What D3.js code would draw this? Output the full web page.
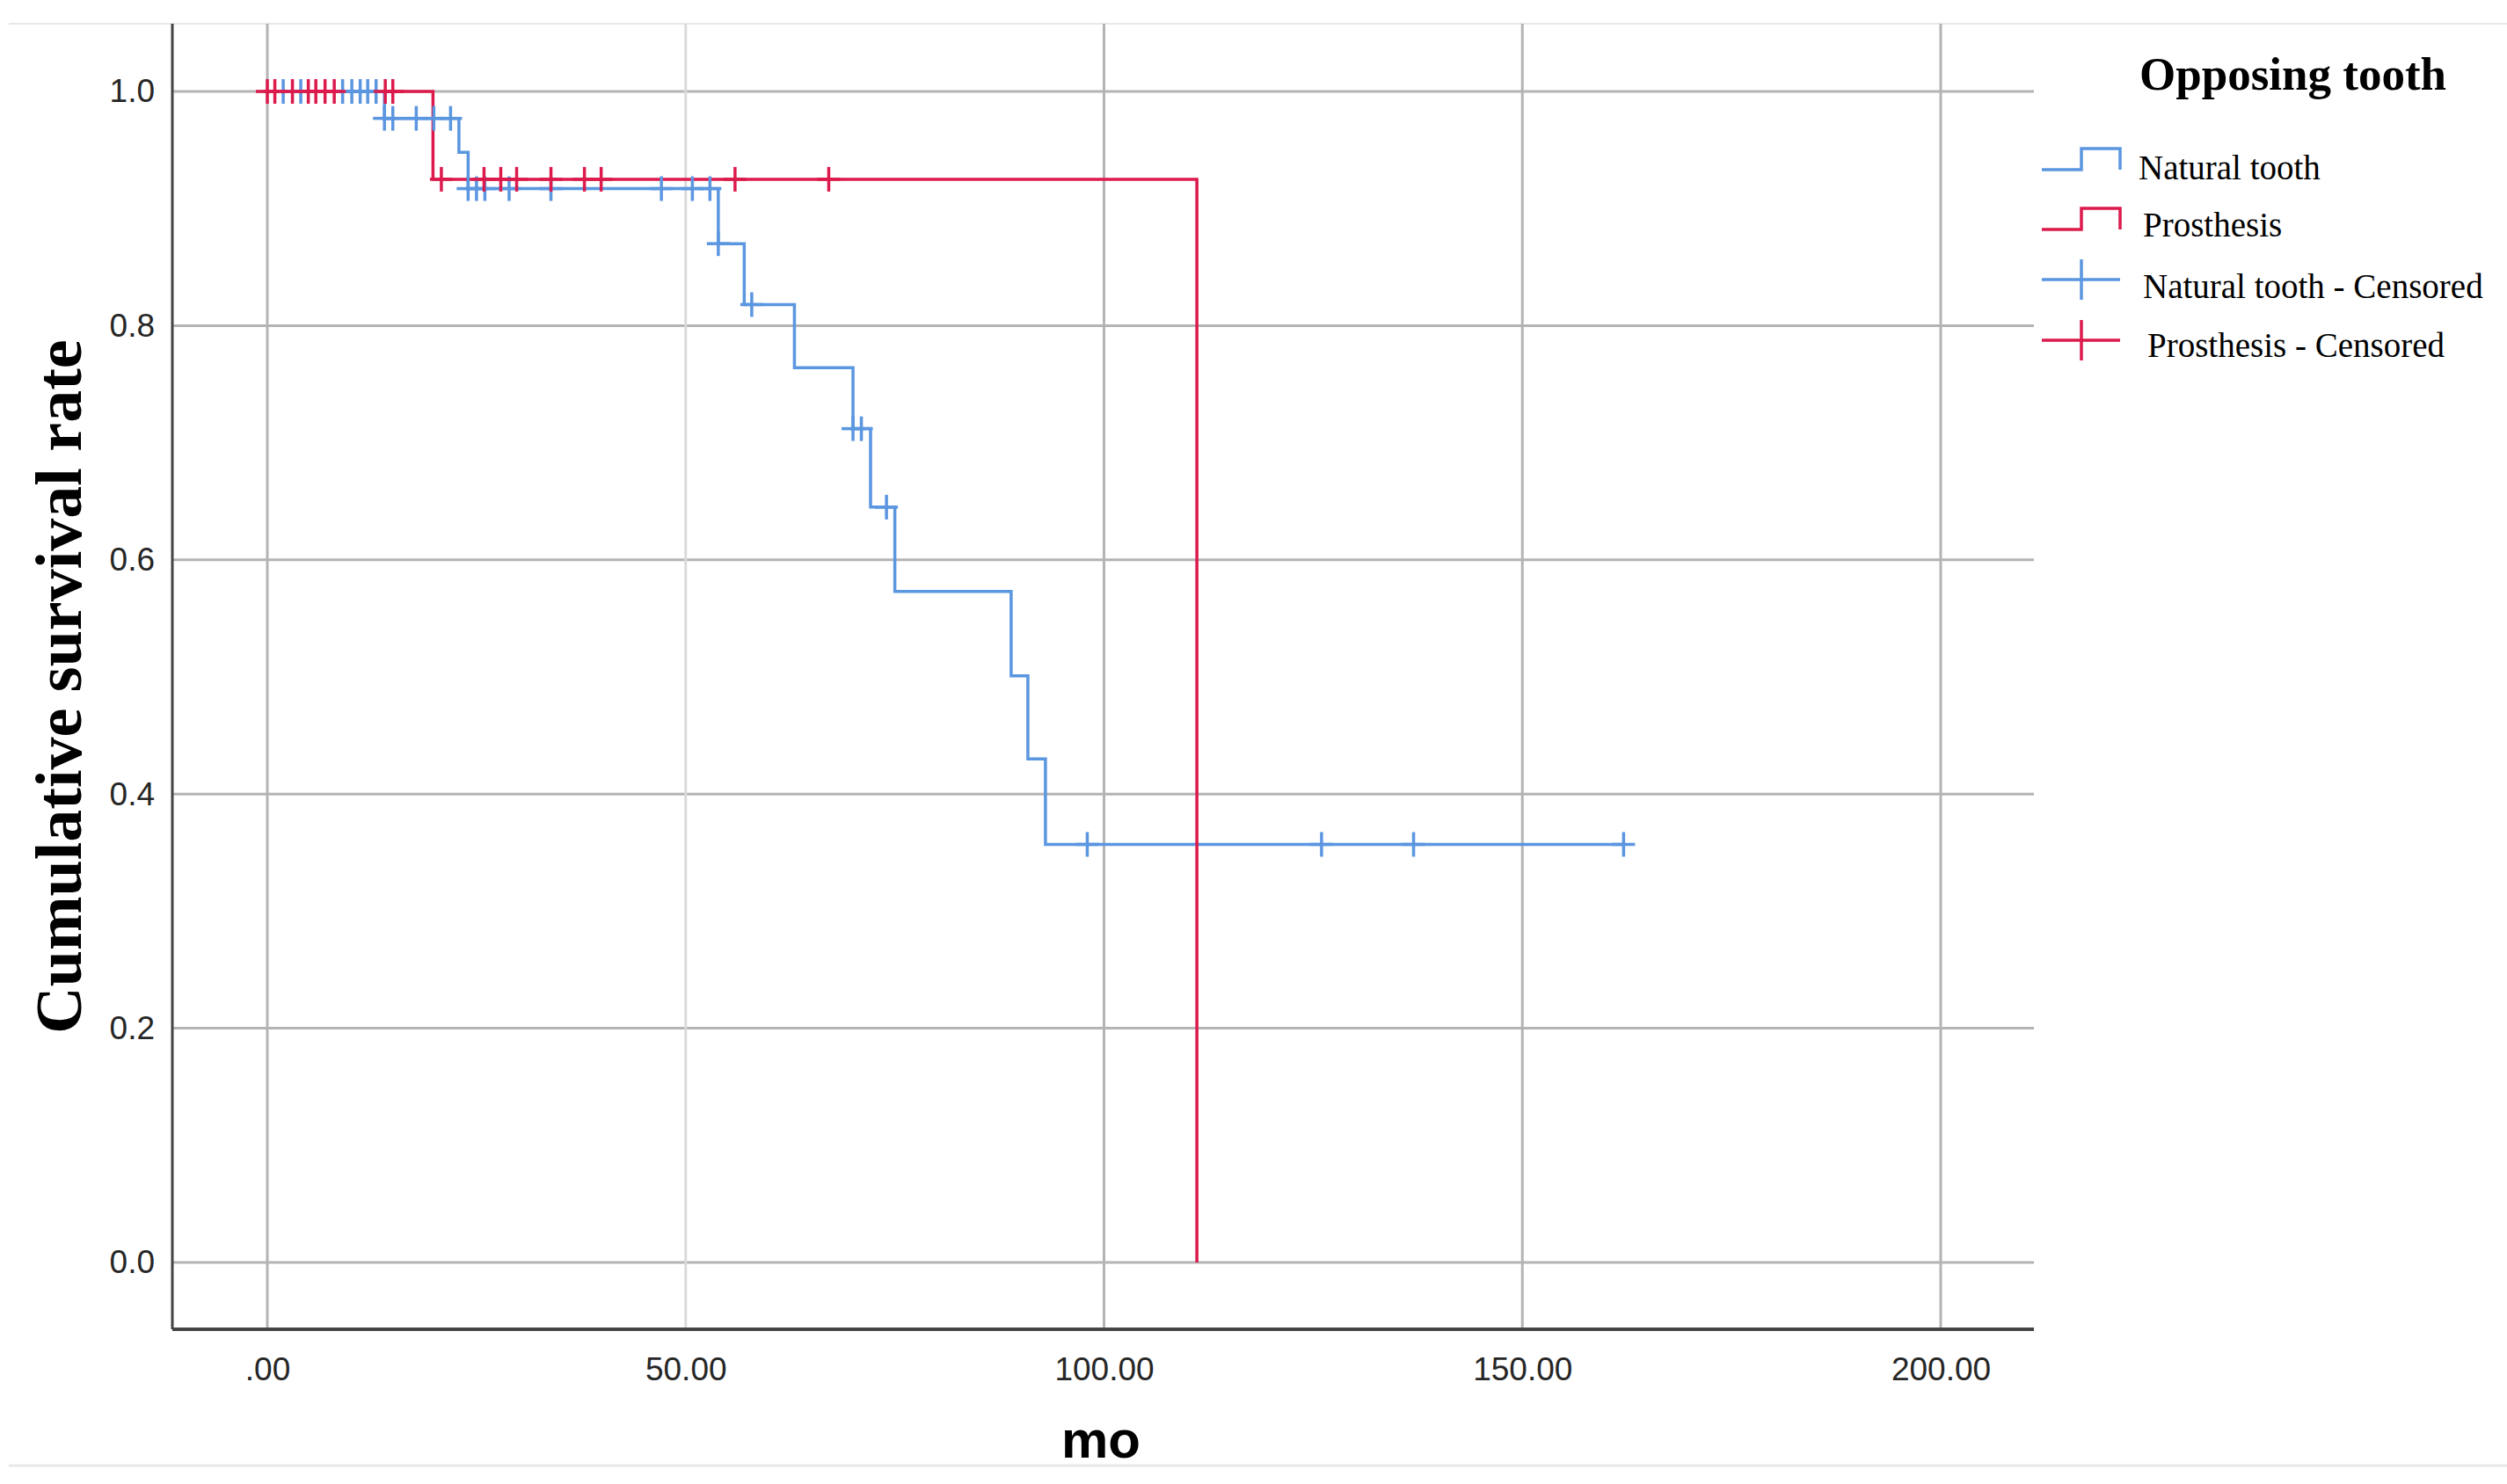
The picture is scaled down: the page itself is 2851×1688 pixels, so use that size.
<!DOCTYPE html>
<html>
<head>
<meta charset="utf-8">
<script src="https://cdn.jsdelivr.net/npm/d3@7"></script>
<style>
  html, body { margin: 0; padding: 0; background: #fff; }
  svg { display: block; }
</style>
</head>
<body>
<div id="chart"></div>
<script>
// Kaplan-Meier steps (time in months, cumulative survival)
const naturalTimes    = [0, 14.0, 22.9, 24.0, 53.9, 57.0, 63.0, 70.0, 72.1, 75.0, 88.9, 90.9, 93.0, 162.1];
const naturalSurvival = [1.0, 0.977, 0.948, 0.917, 0.870, 0.818, 0.764, 0.712, 0.645, 0.573, 0.501, 0.430, 0.357, 0.357];
const naturalCensored = [1.9, 4.0, 9.0, 10.1, 11.1, 12.0, 13.0, 14.0, 15.0, 17.8, 19.9, 21.9,
                         24.0, 25.0, 26.0, 28.9, 33.9, 47.1, 50.8, 52.9, 53.9, 57.9, 70.0, 71.0, 74.0,
                         98.0, 126.0, 137.0, 162.1];

const prosthesisTimes    = [0, 19.8, 111.1];
const prosthesisSurvival = [1.0, 0.925, 0.0];
const prosthesisCensored = [0.0, 0.9, 3.0, 4.9, 5.8, 6.9, 8.0, 14.1, 15.0,
                            20.8, 25.9, 27.9, 29.8, 33.9, 37.9, 39.9, 55.9, 67.1];

const xTicks = [0, 50, 100, 150, 200];
const yTicks = [0, 0.2, 0.4, 0.6, 0.8, 1.0];
const legendLabels = ["Natural tooth", "Prosthesis", "Natural tooth - Censored", "Prosthesis - Censored"];

const width = 2851, height = 1688;
const blue = "#5b96e0", red = "#dc1a4c";
const frame = { left: 196, right: 2313, top: 27, bottom: 1512 };

const svg = d3.select("#chart").append("svg")
  .attr("width", width)
  .attr("height", height);

// faint image border lines
svg.append("line").attr("x1", 10).attr("x2", width).attr("y1", 27).attr("y2", 27)
  .attr("stroke", "#e8e8e8").attr("stroke-width", 2);
svg.append("line").attr("x1", 10).attr("x2", width).attr("y1", 1667).attr("y2", 1667)
  .attr("stroke", "#e8e8e8").attr("stroke-width", 3);

const x = d3.scaleLinear().domain([0, 200]).range([304, 2207]);
const y = d3.scaleLinear().domain([0, 1]).range([1436, 104]);

// gridlines
svg.append("g")
  .selectAll("line")
  .data(yTicks)
  .join("line")
    .attr("x1", frame.left).attr("x2", frame.right)
    .attr("y1", d => y(d)).attr("y2", d => y(d))
    .attr("stroke", "#b4b4b4").attr("stroke-width", 3);

svg.append("g")
  .selectAll("line")
  .data(xTicks)
  .join("line")
    .attr("x1", d => x(d)).attr("x2", d => x(d))
    .attr("y1", frame.top).attr("y2", frame.bottom)
    .attr("stroke", d => d === 50 ? "#dadada" : "#b4b4b4").attr("stroke-width", 3);

// axes
const yAxis = g => g
  .attr("transform", `translate(${frame.left},0)`)
  .call(d3.axisLeft(y).tickValues(yTicks).tickFormat(d3.format(".1f")).tickSize(0).tickPadding(20))
  .call(g => g.select(".domain").remove())
  .call(g => g.selectAll("text")
    .attr("font-family", "Liberation Sans, Arial, sans-serif")
    .attr("font-size", 37)
    .attr("fill", "#262626"));

const xAxis = g => g
  .attr("transform", `translate(0,${frame.bottom})`)
  .call(d3.axisBottom(x).tickValues(xTicks).tickFormat(d => d === 0 ? ".00" : d3.format(".2f")(d)).tickSize(0).tickPadding(32))
  .call(g => g.select(".domain").remove())
  .call(g => g.selectAll("text")
    .attr("font-family", "Liberation Sans, Arial, sans-serif")
    .attr("font-size", 37)
    .attr("fill", "#262626"));

svg.append("g").call(yAxis);
svg.append("g").call(xAxis);

svg.append("line")
  .attr("x1", frame.left).attr("x2", frame.left)
  .attr("y1", frame.top).attr("y2", frame.bottom)
  .attr("stroke", "#444").attr("stroke-width", 3);
svg.append("line")
  .attr("x1", frame.left).attr("x2", frame.right)
  .attr("y1", frame.bottom).attr("y2", frame.bottom)
  .attr("stroke", "#444").attr("stroke-width", 4);

// axis titles
svg.append("text")
  .attr("transform", `translate(92,${781}) rotate(-90)`)
  .attr("text-anchor", "middle")
  .attr("font-family", "Liberation Serif, Times New Roman, serif")
  .attr("font-weight", "bold")
  .attr("font-size", 74)
  .attr("fill", "#000")
  .text("Cumulative survival rate");

svg.append("text")
  .attr("x", 1252).attr("y", 1658)
  .attr("text-anchor", "middle")
  .attr("font-family", "Liberation Sans, Arial, sans-serif")
  .attr("font-weight", "bold")
  .attr("font-size", 60)
  .attr("fill", "#000")
  .text("mo");

// survival curves
const stepLine = d3.line()
  .x(d => x(d[0]))
  .y(d => y(d[1]))
  .curve(d3.curveStepAfter);

const series = [
  { times: naturalTimes, surv: naturalSurvival, censored: naturalCensored, color: blue },
  { times: prosthesisTimes, surv: prosthesisSurvival, censored: prosthesisCensored, color: red }
];

// survival level at time t (last step at or before t)
const levelAt = (s, t) => {
  const i = d3.bisectRight(s.times, t) - 1;
  return s.surv[Math.max(0, i)];
};

series.forEach(s => {
  svg.append("path")
    .attr("d", stepLine(s.times.map((t, i) => [t, s.surv[i]])))
    .attr("fill", "none")
    .attr("stroke", s.color)
    .attr("stroke-width", 3.5);
});

series.forEach(s => {
  const marks = svg.append("g")
    .attr("stroke", s.color)
    .attr("stroke-width", 3.5)
    .selectAll("g")
    .data(s.censored)
    .join("g")
      .attr("transform", d => `translate(${x(d)},${y(levelAt(s, d))})`);
  marks.append("line").attr("x1", -13).attr("x2", 13);
  marks.append("line").attr("y1", -14).attr("y2", 14);
});

// legend
const legend = svg.append("g");
legend.append("text")
  .attr("x", 2433).attr("y", 102)
  .attr("font-family", "Liberation Serif, Times New Roman, serif")
  .attr("font-weight", "bold")
  .attr("font-size", 53)
  .attr("fill", "#000")
  .text("Opposing tooth");

const legendRows = [
  { label: legendLabels[0], color: blue, kind: "step", cy: 181, tx: 2432, ty: 204 },
  { label: legendLabels[1], color: red, kind: "step", cy: 249, tx: 2437, ty: 269 },
  { label: legendLabels[2], color: blue, kind: "cross", cy: 318, tx: 2437, ty: 339 },
  { label: legendLabels[3], color: red, kind: "cross", cy: 387, tx: 2442, ty: 406 }
];

legendRows.forEach(r => {
  const g = legend.append("g").attr("stroke", r.color).attr("stroke-width", 3.5).attr("fill", "none");
  if (r.kind === "step") {
    g.append("path").attr("d", `M2322,${r.cy + 12}H2367V${r.cy - 12}H2411V${r.cy + 12}`);
  } else {
    g.append("line").attr("x1", 2322).attr("x2", 2411).attr("y1", r.cy).attr("y2", r.cy);
    g.append("line").attr("x1", 2367).attr("x2", 2367).attr("y1", r.cy - 23).attr("y2", r.cy + 23);
  }
  legend.append("text")
    .attr("x", r.tx).attr("y", r.ty)
    .attr("font-family", "Liberation Serif, Times New Roman, serif")
    .attr("font-size", 39)
    .attr("fill", "#000")
    .text(r.label);
});
</script>
</body>
</html>
